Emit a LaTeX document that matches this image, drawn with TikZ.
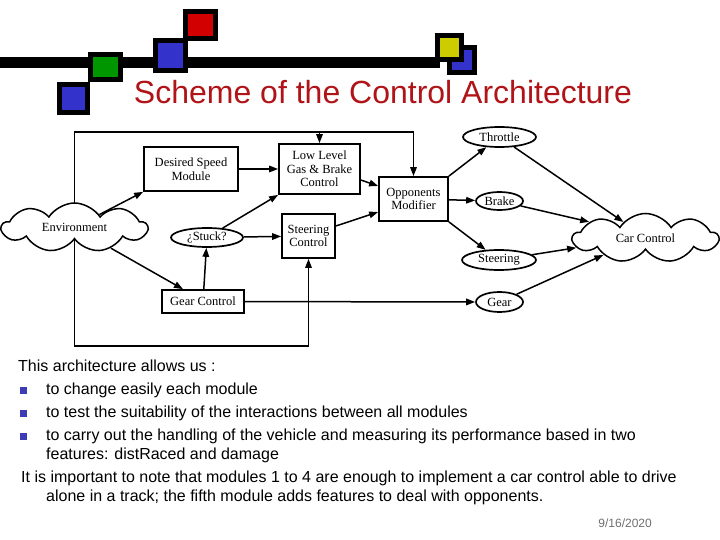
\documentclass[tikz,border=0pt]{standalone}
\usepackage{fontspec}
\setmainfont{Liberation Sans}
\newfontfamily\diagfont{Liberation Serif}
\usetikzlibrary{arrows.meta,shapes.geometric,shapes.symbols,calc}
\definecolor{titleRed}{RGB}{176,20,24}
\definecolor{tileBlue}{RGB}{51,51,204}
\definecolor{tileGreen}{RGB}{0,150,0}
\definecolor{tileRed}{RGB}{210,0,0}
\definecolor{tileYellow}{RGB}{204,204,0}
\definecolor{bulletBlue}{RGB}{60,60,180}
\definecolor{dateGray}{RGB}{110,110,110}
\pgfdeclarelayer{background}
\pgfsetlayers{background,main}
\tikzset{
  flowArrow/.style={-{Triangle[length=9pt,width=6.5pt]}, line width=1.5pt, draw=black},
  modBox/.style={
    draw=black,
    fill=white,
    line width=1.7pt,
    align=center,
    inner sep=1pt,
    font=\diagfont\fontsize{12.5}{13.5}\selectfont
  },
  sigOval/.style={
    ellipse,
    draw=black,
    fill=white,
    line width=1.7pt,
    inner sep=0pt,
    font=\diagfont\fontsize{12.5}{13.5}\selectfont
  },
  worldCloud/.style={
    cloud,
    cloud puffs=9,
    cloud puff arc=115,
    cloud ignores aspect,
    draw=black,
    fill=white,
    line width=1.5pt,
    inner sep=0pt,
    font=\diagfont\fontsize{12.5}{13.5}\selectfont
  },
  tile/.style={draw=black, line width=5pt},
  bulletSq/.style={fill=bulletBlue, minimum size=7pt, inner sep=0pt},
  bodyLine/.style={anchor=base west, inner sep=0pt, font=\fontsize{16}{19}\selectfont}
}

\begin{document}
\begin{tikzpicture}[x=1pt, y=-1pt]
  \useasboundingbox (0,0) rectangle (720,540);

  % title bar
  \draw[line width=11pt] (0,62.5) -- (440,62.5);
  \draw[tile, fill=tileBlue] (59.5,84.5) rectangle (87.5,112.5);
  \draw[tile, fill=tileGreen] (90.5,54.5) rectangle (120.5,79.5);
  \draw[tile, fill=tileBlue] (155.5,40.5) rectangle (185.5,70.5);
  \draw[tile, fill=tileRed] (185.5,11.5) rectangle (215.5,38.5);
  \draw[tile, fill=tileBlue] (449.5,47.5) rectangle (474.5,72.5);
  \draw[tile, fill=tileYellow] (437.5,35.5) rectangle (461.5,59.5);
  \node[anchor=base, inner sep=0pt, text=titleRed, font=\fontsize{32}{38}\selectfont] (title) at (383,104)
    {Scheme of the Control Architecture};

  % architecture
  \node[worldCloud, minimum width=145, minimum height=49] (env) at (74.5,227.5) {Environment};
  \node[modBox, minimum width=94, minimum height=44] (desired) at (191,169) {Desired Speed\\Module};
  \node[modBox, minimum width=81, minimum height=50] (lowlevel) at (319.5,169) {Low Level\\Gas \& Brake\\Control};
  \node[sigOval, minimum width=72, minimum height=19] (stuck) at (207,237.5) {¿Stuck?};
  \node[modBox, minimum width=53, minimum height=44] (steerctl) at (308.5,236) {Steering\\Control};
  \node[modBox, minimum width=82, minimum height=23] (gearctl) at (203,301.5) {Gear Control};
  \node[modBox, minimum width=69, minimum height=44] (opponents) at (413.5,199) {Opponents\\Modifier};

  \node[sigOval, minimum width=73, minimum height=20] (throttle) at (499.5,137) {Throttle};
  \node[sigOval, minimum width=47, minimum height=18] (brake) at (499.5,201) {Brake};
  \node[sigOval, minimum width=74, minimum height=20] (steering) at (499,260) {Steering};
  \node[sigOval, minimum width=47, minimum height=20] (gear) at (499.5,302) {Gear};
  \node[worldCloud, minimum width=145, minimum height=49] (car) at (645.5,238) {Car Control};

  \begin{pgfonlayer}{background}
    \draw[flowArrow] (env.center) -- (env.center |- 0,132) coordinate (feedTop) -| (opponents.north);
    \draw[flowArrow] (lowlevel.north |- feedTop) -- (lowlevel.north);
    \draw[flowArrow] (env.center) -- (env.center |- 0,346) -| (steerctl.south);
  \end{pgfonlayer}

  \draw[flowArrow] (env) -- (desired.south west);
  \draw[flowArrow] (env) -- ([xshift=-20pt]gearctl.north);
  \draw[flowArrow] (stuck) -- (lowlevel.south west);
  \draw[flowArrow] ([yshift=-11pt]lowlevel.east) -- ([yshift=13pt]opponents.west);
  \draw[flowArrow] ([yshift=10pt]steerctl.east) -- ([yshift=-13pt]opponents.west);
  \draw[flowArrow] (opponents.north east) -- (throttle);
  \draw[flowArrow] (opponents.south east) -- (steering);
  \foreach \a/\b in {desired/lowlevel,stuck/steerctl,gearctl/stuck,gearctl/gear,opponents/brake}
    \draw[flowArrow] (\a) -- (\b);
  \foreach \a/\ang in {throttle/144,brake/164,steering/188,gear/202}
    \draw[flowArrow] (\a) -- (car.\ang);

  % notes
  \node[bodyLine] (intro) at (18,371) {This architecture allows us :};
  \node[bulletSq] (dotA) at (23.5,390.5) {};
  \node[bulletSq] (dotB) at (23.5,413.5) {};
  \node[bulletSq] (dotC) at (23.5,436.5) {};
  \node[bodyLine] (itemA) at (46,394) {to change easily each module};
  \node[bodyLine] (itemB) at (46,417) {to test the suitability of the interactions between all modules};
  \node[bodyLine] (itemC) at (46,440) {to carry out the handling of the vehicle and measuring its performance based in two};
  \node[bodyLine] (itemCc) at (46,459) {features: distRaced and damage};
  \node[bodyLine] (remark) at (21,482) {It is important to note that modules 1 to 4 are enough to implement a car control able to drive};
  \node[bodyLine] (remarkc) at (46,501) {alone in a track; the fifth module adds features to deal with opponents.};
  \node[anchor=base east, inner sep=0pt, text=dateGray, font=\fontsize{12}{14}\selectfont] (date) at (652,527) {9/16/2020};
\end{tikzpicture}
\end{document}
